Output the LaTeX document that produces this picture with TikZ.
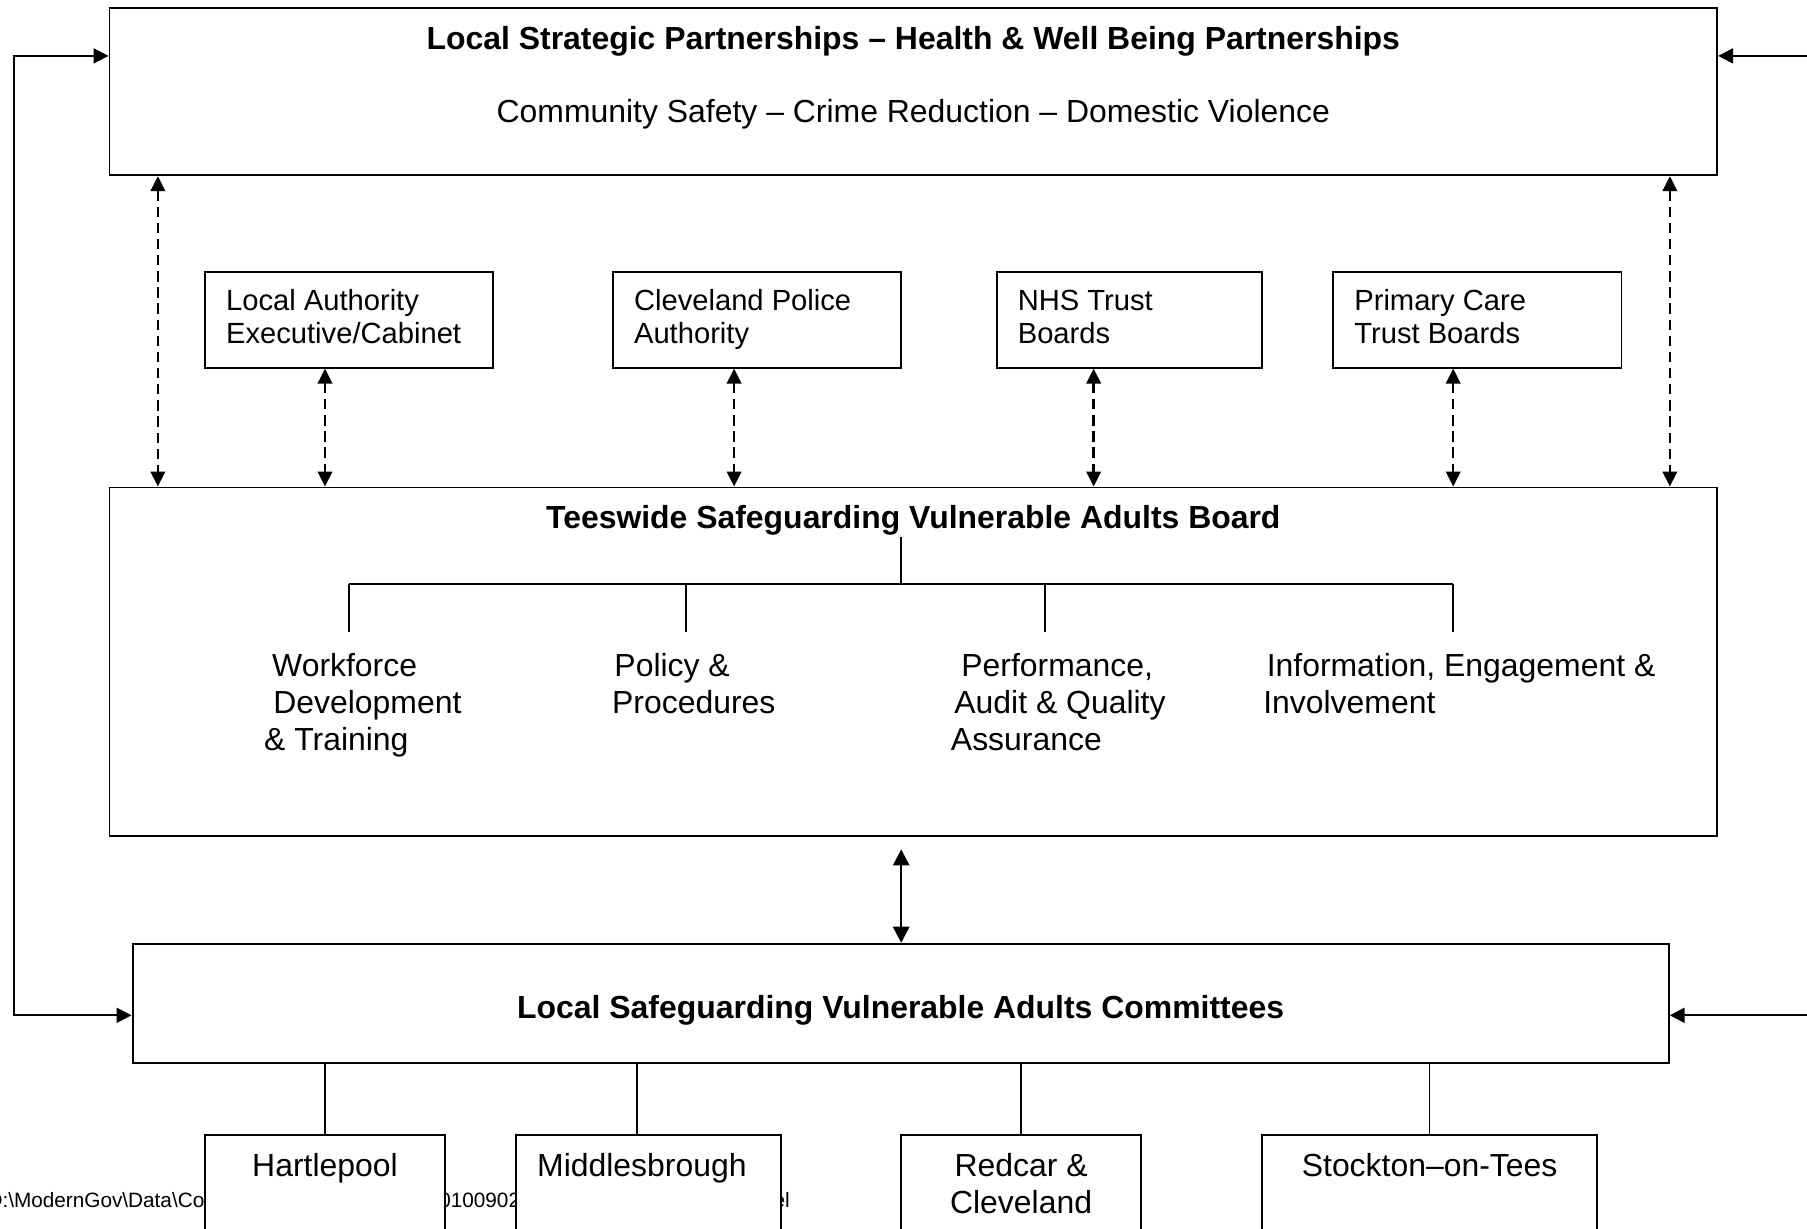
\documentclass[tikz,border=0pt]{standalone}
\usepackage{fontspec}
\setmainfont{Liberation Sans}
\usetikzlibrary{arrows.meta}

\tikzset{
  box/.style={draw, line width=1.7pt, fill=white, inner sep=0pt, rectangle},
  conn/.style={line width=1.7pt},
  treeline/.style={line width=1.4pt},
  tipd/.style={{Triangle[length=13pt,width=12.5pt]}-{Triangle[length=13pt,width=12.5pt]}},
  dconn/.style={line width=2.2pt, dash pattern=on 9pt off 5pt, tipd},
  sconn/.style={line width=2.2pt, {Triangle[length=14pt,width=14pt]}-{Triangle[length=14pt,width=14pt]}},
  oneway/.style={line width=1.8pt, -{Triangle[length=13pt,width=13pt]}},
  twoway/.style={line width=1.8pt, {Triangle[length=13pt,width=13pt]}-{Triangle[length=13pt,width=13pt]}},
  big/.style={font=\fontsize{27.7}{32}\selectfont, inner sep=0pt},
  bigb/.style={font=\fontsize{27.7}{32}\selectfont\bfseries, inner sep=0pt},
  small/.style={font=\fontsize{25.3}{29}\selectfont, inner sep=0pt},
  foot/.style={font=\fontsize{18}{20}\selectfont, inner sep=0pt},
}

\begin{document}
\begin{tikzpicture}[x=1pt,y=1pt]
\clip (0,0) rectangle (1568,-1066);
\useasboundingbox (0,0) rectangle (1568,-1066);

% footer (partly hidden behind the bottom boxes)
\node[foot, anchor=base west] (f1) at (-11,-1048) {D:\textbackslash ModernGov\textbackslash Data\textbackslash Com};
\node[foot, anchor=base west] (f2) at (371,-1048) {20100902};
\node[foot, anchor=base west] (f3) at (671,-1048) {el};

% boxes
\node[box, minimum width=1395pt, minimum height=145pt] (lsp) at (792.5,-79.5) {};
\node[box, minimum width=250pt, minimum height=83pt] (la) at (303,-277.5) {};
\node[box, minimum width=250pt, minimum height=83pt] (pol) at (657,-277.5) {};
\node[box, minimum width=230pt, minimum height=83pt] (nhs) at (980,-277.5) {};
\node[box, minimum width=250pt, minimum height=83pt] (pct) at (1282,-277.5) {};
\node[box, minimum width=1395pt, minimum height=302pt] (board) at (792.5,-574) {};
\node[box, minimum width=1333pt, minimum height=103pt] (com) at (781.5,-870.5) {};
\node[box, minimum width=208pt, minimum height=115pt] (hb) at (282,-1042.5) {};
\node[box, minimum width=230pt, minimum height=115pt] (mb) at (563,-1042.5) {};
\node[box, minimum width=208pt, minimum height=115pt] (rb) at (886,-1042.5) {};
\node[box, minimum width=291pt, minimum height=115pt] (sb) at (1240.5,-1042.5) {};

% texts
\node[bigb, anchor=base] (lsp-t) at (792.5,-43) {Local Strategic Partnerships – Health \& Well Being Partnerships};
\node[big, anchor=base] (lsp-s) at (792.5,-106) {Community Safety – Crime Reduction – Domestic Violence};

\node[small, anchor=base west] (la1) at (196,-269) {Local Authority};
\node[small, anchor=base west] (la2) at (196,-298) {Executive/Cabinet};
\node[small, anchor=base west] (pol1) at (550,-269) {Cleveland Police};
\node[small, anchor=base west] (pol2) at (550,-298) {Authority};
\node[small, anchor=base west] (nhs1) at (883,-269) {NHS Trust};
\node[small, anchor=base west] (nhs2) at (883,-298) {Boards};
\node[small, anchor=base west] (pct1) at (1175,-269) {Primary Care};
\node[small, anchor=base west] (pct2) at (1175,-298) {Trust Boards};

\node[bigb, anchor=base] (board-t) at (792.5,-459) {Teeswide Safeguarding Vulnerable Adults Board};

\node[big, anchor=base west] (w1) at (236,-587) {Workforce};
\node[big, anchor=base west] (w2) at (237,-619) {Development};
\node[big, anchor=base west] (w3) at (229,-651) {\& Training};
\node[big, anchor=base west] (p1) at (533,-587) {Policy \&};
\node[big, anchor=base west] (p2) at (531,-619) {Procedures};
\node[big, anchor=base west] (q1) at (834,-587) {Performance,};
\node[big, anchor=base west] (q2) at (828,-619) {Audit \& Quality};
\node[big, anchor=base west] (q3) at (825,-651) {Assurance};
\node[big, anchor=base west] (i1) at (1099,-587) {Information, Engagement \&};
\node[big, anchor=base west] (i2) at (1096,-619) {Involvement};

\node[bigb, anchor=base] (com-t) at (781.5,-884) {Local Safeguarding Vulnerable Adults Committees};

\node[big, anchor=base] (hb-t) at (282,-1021) {Hartlepool};
\node[big, anchor=base] (mb-t) at (557,-1021) {Middlesbrough};
\node[big, anchor=base] (rb-t1) at (886,-1021) {Redcar \&};
\node[big, anchor=base] (rb-t2) at (886,-1053) {Cleveland};
\node[big, anchor=base] (sb-t) at (1240.5,-1021) {Stockton–on-Tees};

% helper coordinates
\coordinate (L1) at (12,-48.5);
\coordinate (L2) at (12,-881);
\coordinate (R1) at (1575,-48.5);
\coordinate (R2) at (1575,-881);
\coordinate (c1) at (137,0);
\coordinate (c2) at (1449,0);
\coordinate (k1) at (282,0);
\coordinate (k2) at (637,0);
\coordinate (k3) at (949,0);
\coordinate (k4) at (1261,0);
\coordinate (a0) at (782,-737);
\coordinate (t0) at (782,-466);
\coordinate (t1) at (782,-507);
\coordinate (tl) at (303,-507);
\coordinate (tr) at (1261,-507);
\coordinate (d1) at (303,-548);
\coordinate (d2) at (595,-548);
\coordinate (d3) at (907,-548);
\coordinate (d4) at (1261,-548);
\coordinate (m1) at (553,0);

% outer loops
\draw[twoway] (lsp.west |- L1) -- (L1) -- (L2) -- (com.west |- L2);
\draw[oneway] (R1) -- (lsp.east |- R1);
\draw[oneway] (R2) -- (com.east |- R2);

% dashed links
\draw[dconn] (lsp.south -| c1) -- (board.north -| c1);
\draw[dconn] (lsp.south -| c2) -- (board.north -| c2);
\draw[dconn] (la.south -| k1) -- (board.north -| k1);
\draw[dconn] (pol.south -| k2) -- (board.north -| k2);
\draw[dconn] (nhs.south -| k3) -- (board.north -| k3);
\draw[dconn] (pct.south -| k4) -- (board.north -| k4);

% board tree
\draw[treeline] (t0) -- (t1);
\draw[treeline] (tl) -- (tr);
\draw[treeline] (tl) -- (d1);
\draw[treeline] (d2 |- tl) -- (d2);
\draw[treeline] (d3 |- tl) -- (d3);
\draw[treeline] (tr) -- (d4);

% board to committees
\draw[sconn] (a0) -- (com.north -| a0);

% committees to local boxes
\draw[treeline] (com.south -| hb.north) -- (hb.north);
\draw[treeline] (com.south -| m1) -- (mb.north -| m1);
\draw[treeline] (com.south -| rb.north) -- (rb.north);
\draw[treeline] (com.south -| sb.north) -- (sb.north);
\end{tikzpicture}
\end{document}
